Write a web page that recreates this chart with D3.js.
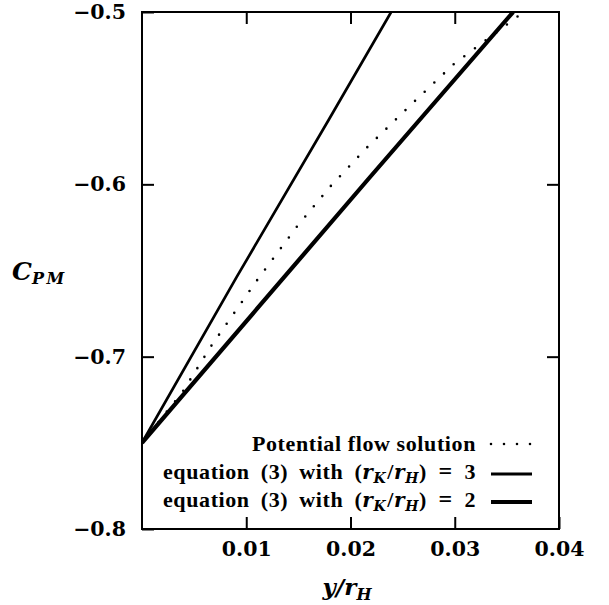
<!DOCTYPE html>
<html>
<head>
<meta charset="utf-8">
<script src="https://cdn.jsdelivr.net/npm/d3@7"></script>
<style>
  body { margin: 0; background: #fff; }
  .tick text { font-family: "DejaVu Serif", serif; font-weight: bold; font-size: 20.5px; fill: #000; }
  .lab { font-family: "Liberation Serif", "DejaVu Serif", serif; font-weight: bold; fill: #000; font-size: 22px; letter-spacing: 0.6px; }
  .math { font-family: "DejaVu Serif", serif; font-weight: bold; font-style: italic; fill: #000; }
</style>
</head>
<body>
<div id="chart"></div>
<script>
// values
var potX = [0, 0.0039, 0.0067, 0.0111, 0.0149, 0.0181, 0.0216, 0.0262, 0.0299, 0.0360, 0.0366];
var potY = [-0.75, -0.7203, -0.6932, -0.6551, -0.6242, -0.6010, -0.5785, -0.5515, -0.5303, -0.5027, -0.4995];
var r3X = [0, 0.0091, 0.0179, 0.0239];
var r3Y = [-0.75, -0.6536, -0.5627, -0.5];
var r2X = [0, 0.0112, 0.0219, 0.0356];
var r2Y = [-0.75, -0.671, -0.5956, -0.5];
var xTicks = [0.01, 0.02, 0.03, 0.04];
var yTicks = [-0.5, -0.6, -0.7, -0.8];

var w = 609, h = 605;
var mLeft = 142, mTop = 12, mRight = 559, mBottom = 529;

var svg = d3.select("#chart")
    .append("svg")
    .attr("width", w)
    .attr("height", h);

var x = d3.scaleLinear().domain([0, 0.04]).range([mLeft, mRight]);
var y = d3.scaleLinear().domain([-0.8, -0.5]).range([mBottom, mTop]);

svg.append("clipPath").attr("id", "clip")
  .append("rect")
    .attr("x", mLeft).attr("y", mTop)
    .attr("width", mRight - mLeft).attr("height", mBottom - mTop);

// axes, ticks pointing in
var xAxis = svg.append("g")
    .attr("transform", "translate(0," + mBottom + ")")
    .call(d3.axisBottom(x).tickValues(xTicks).tickSize(-12).tickPadding(12).tickFormat(d3.format(".2f")));
svg.append("g")
    .attr("transform", "translate(0," + mTop + ")")
    .call(d3.axisTop(x).tickValues([0.01, 0.02, 0.03]).tickSize(-12).tickFormat(""));
svg.append("g")
    .attr("transform", "translate(" + mLeft + ",0)")
    .call(d3.axisLeft(y).tickValues(yTicks).tickSize(-12).tickPadding(16)
      .tickFormat(function(d) { return "\u2212" + d3.format(".1f")(-d); }));
svg.append("g")
    .attr("transform", "translate(" + mRight + ",0)")
    .call(d3.axisRight(y).tickValues([-0.6, -0.7]).tickSize(-12).tickFormat(""));

svg.selectAll(".domain").remove();
svg.selectAll(".tick line").attr("stroke", "#000").attr("stroke-width", 2);
xAxis.selectAll(".tick text").attr("dy", "0.71em");

svg.append("rect")
    .attr("x", mLeft).attr("y", mTop)
    .attr("width", mRight - mLeft).attr("height", mBottom - mTop)
    .attr("fill", "none")
    .attr("stroke", "#000")
    .attr("stroke-width", 2);

var line = d3.line()
    .x(function(d) { return x(d[0]); })
    .y(function(d) { return y(d[1]); });

function pairs(xs, ys) {
  return xs.map(function(v, i) { return [v, ys[i]]; });
}

var plot = svg.append("g").attr("clip-path", "url(#clip)");

plot.append("path")
    .datum(pairs(potX, potY))
    .attr("d", line)
    .attr("fill", "none")
    .attr("stroke", "#000")
    .attr("stroke-width", 2.6)
    .attr("stroke-linecap", "round")
    .attr("stroke-dasharray", "0 13.3");

plot.append("path")
    .datum(pairs(r3X, r3Y))
    .attr("d", line)
    .attr("fill", "none")
    .attr("stroke", "#000")
    .attr("stroke-width", 2.7);

plot.append("path")
    .datum(pairs(r2X, r2Y))
    .attr("d", line)
    .attr("fill", "none")
    .attr("stroke", "#000")
    .attr("stroke-width", 4.2);

// legend
var legend = svg.append("g");
var rows = [
  { base: 451, y: 444, dash: "0 13", sw: 2.6, cap: "round" },
  { base: 479, y: 474, dash: null, sw: 3, cap: "butt" },
  { base: 507, y: 502, dash: null, sw: 4.2, cap: "butt" }
];

legend.append("text").attr("class", "lab")
    .attr("x", 476).attr("y", rows[0].base)
    .attr("text-anchor", "end")
    .text("Potential flow solution");

[["3", rows[1].base], ["2", rows[2].base]].forEach(function(r) {
  var t = legend.append("text").attr("class", "lab")
      .attr("x", 476).attr("y", r[1])
      .attr("text-anchor", "end")
      .attr("word-spacing", 5);
  t.append("tspan").text("equation (3) with (");
  t.append("tspan").attr("class", "math").attr("font-size", 20).text("r");
  t.append("tspan").attr("class", "math").attr("font-size", 14).attr("dy", 4).text("K");
  t.append("tspan").attr("dy", -4).attr("dx", 1).text("/");
  t.append("tspan").attr("class", "math").attr("font-size", 20).text("r");
  t.append("tspan").attr("class", "math").attr("font-size", 14).attr("dy", 4).text("H");
  t.append("tspan").attr("dy", -4).text(")");
  t.append("tspan").attr("font-size", 24).text(" = ");
  t.append("tspan").text(r[0]);
});

rows.forEach(function(r) {
  legend.append("line")
      .attr("x1", 491).attr("x2", 532)
      .attr("y1", r.y).attr("y2", r.y)
      .attr("stroke", "#000")
      .attr("stroke-width", r.sw)
      .attr("stroke-linecap", r.cap)
      .attr("stroke-dasharray", r.dash);
});

// axis titles
var yt = svg.append("text").attr("class", "math")
    .attr("x", 12).attr("y", 280).attr("font-size", 25);
yt.append("tspan").text("C");
yt.append("tspan").attr("font-size", 16).attr("dy", 4).attr("letter-spacing", 2.5).text("PM");

var xt = svg.append("text").attr("class", "math")
    .attr("x", 347).attr("y", 595).attr("text-anchor", "middle")
    .attr("font-size", 23);
xt.append("tspan").text("y/r");
xt.append("tspan").attr("font-size", 16).attr("dy", 5).text("H");
</script>
</body>
</html>
